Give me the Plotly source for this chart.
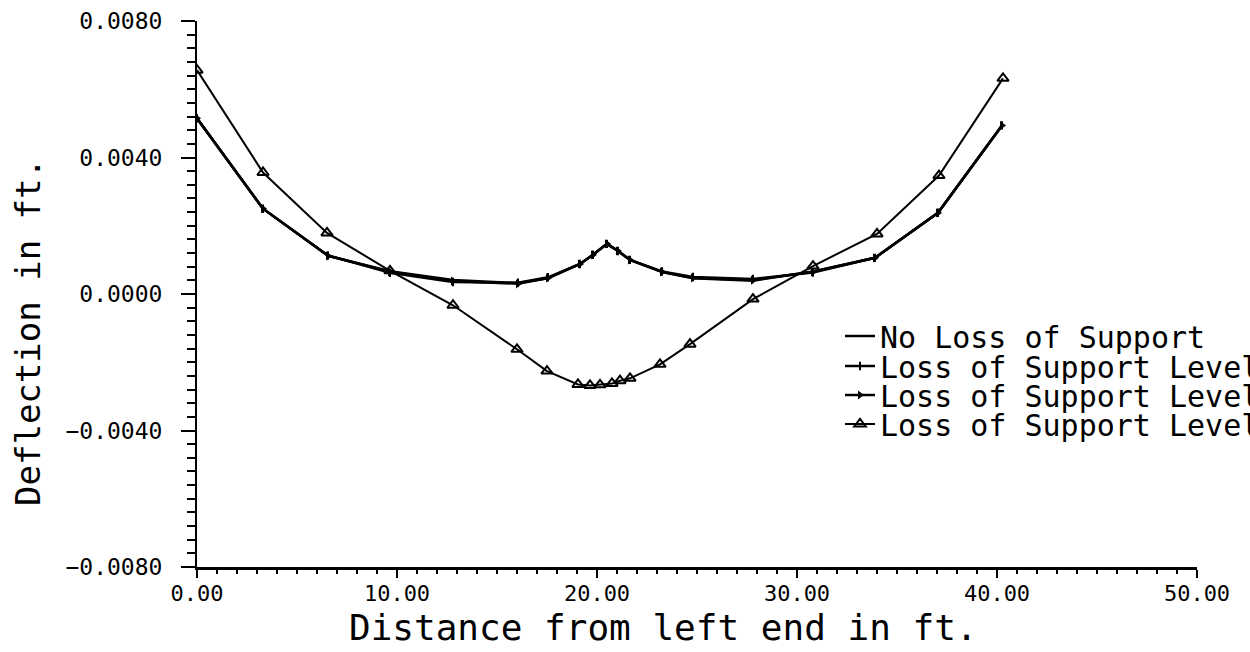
import plotly.graph_objects as go

# ---- data ----
x_l3 = [0.0, 3.3, 6.5, 9.65, 12.8, 16.0, 17.5, 19.05, 19.65, 20.15, 20.75, 21.15, 21.65,
        23.15, 24.65, 27.8, 30.8, 34.0, 37.1, 40.3]
y_l3 = [0.00656, 0.00356, 0.00179, 0.00068, -0.00033, -0.00162, -0.00226, -0.00265, -0.00268,
        -0.00266, -0.00262, -0.00254, -0.00247, -0.00206, -0.00147, -0.00015, 0.00082, 0.00176,
        0.00347, 0.00632]

x_l2 = [0.0, 3.3, 6.55, 9.65, 12.8, 16.05, 17.55, 19.15, 19.8, 20.5, 21.05, 21.65, 23.25,
        24.8, 27.8, 30.8, 33.9, 37.05, 40.25]
y_l2 = [0.00515, 0.0025, 0.00112, 0.00065, 0.00038, 0.0003, 0.00047, 0.00088, 0.00115,
        0.00147, 0.00126, 0.001, 0.00065, 0.00047, 0.00041, 0.00065, 0.00106, 0.00238, 0.00494]

x_l1 = [0.0, 3.3, 6.55, 9.65, 12.8, 16.05, 17.55, 19.15, 19.8, 20.5, 21.05, 21.65, 23.25,
        24.8, 27.8, 30.8, 33.9, 37.05, 40.25]
y_l1 = [0.00515, 0.0025, 0.00113, 0.00062, 0.00035, 0.00033, 0.00049, 0.00088, 0.00115,
        0.00147, 0.00126, 0.001, 0.00066, 0.00050, 0.00044, 0.00063, 0.00106, 0.00238, 0.00494]

x_nl = [0.0, 3.3, 6.55, 9.65, 12.8, 16.05, 17.55, 19.15, 19.8, 20.5, 21.05, 21.65, 23.25,
        24.8, 27.8, 30.8, 33.9, 37.05, 40.25]
y_nl = [0.00515, 0.0025, 0.00112, 0.00067, 0.00041, 0.00032, 0.00046, 0.00088, 0.00115,
        0.00147, 0.00126, 0.001, 0.00064, 0.00046, 0.00039, 0.00066, 0.00106, 0.00238, 0.00494]

series_names = ["No Loss of Support", "Loss of Support Level 1",
                "Loss of Support Level 2", "Loss of Support Level 3"]

x_ticks = [0, 10, 20, 30, 40, 50]
y_ticks = [-0.008, -0.004, 0.0, 0.004, 0.008]

MONO = "DejaVu Sans Mono"

fig = go.Figure()
fig.add_trace(go.Scatter(x=x_nl, y=y_nl, name=series_names[0], mode="lines",
                         line=dict(color="black", width=2.5), legend="legend",
                         showlegend=True))
fig.add_trace(go.Scatter(x=x_l1, y=y_l1, name=series_names[1], mode="lines+markers",
                         line=dict(color="black", width=2.5),
                         marker=dict(symbol="line-ns", size=6, line=dict(color="black", width=2)),
                         legend="legend2", showlegend=True))
fig.add_trace(go.Scatter(x=x_l2, y=y_l2, name=series_names[2], mode="lines+markers",
                         line=dict(color="black", width=2.5),
                         marker=dict(symbol="triangle-right", size=8, color="black"),
                         legend="legend3", showlegend=True))
fig.add_trace(go.Scatter(x=x_l3, y=y_l3, name=series_names[3], mode="lines+markers",
                         line=dict(color="black", width=2),
                         marker=dict(symbol="triangle-up-open", size=10,
                                     line=dict(color="black", width=2)),
                         legend="legend4", showlegend=True))

W0, W1 = 197, 1197
H0, H1 = 21, 567


def px_x(p):
    return (p - W0) / (W1 - W0)


def px_y(q):
    return (H1 - q) / (H1 - H0)


leg_common = dict(x=px_x(840), xanchor="left", yanchor="middle", bgcolor="rgba(0,0,0,0)",
                  borderwidth=0, font=dict(family=MONO, size=30, color="black"),
                  itemwidth=30)
row_y = [336, 366, 395, 424]

fig.update_layout(
    width=1250, height=652,
    showlegend=True,
    margin=dict(l=W0, r=1250 - W1, t=H0, b=652 - H1, autoexpand=False),
    paper_bgcolor="white", plot_bgcolor="white",
    font=dict(family=MONO, color="black"),
    legend=dict(y=px_y(row_y[0]), **leg_common),
    legend2=dict(y=px_y(row_y[1]), **leg_common),
    legend3=dict(y=px_y(row_y[2]), **leg_common),
    legend4=dict(y=px_y(row_y[3]), **leg_common),
    xaxis=dict(range=[0, 50], tickvals=x_ticks, tickformat=".2f",
               ticks="outside", ticklen=8, tickwidth=1.5, tickcolor="black",
               minor=dict(dtick=1, tick0=0, ticks="outside", ticklen=4, tickwidth=1.5,
                          tickcolor="black"),
               showline=True, linewidth=3, linecolor="black",
               showgrid=False, zeroline=False,
               tickfont=dict(family=MONO, size=22, color="black"),
               ticklabelstandoff=-3),
    yaxis=dict(range=[-0.008, 0.008], tickvals=y_ticks, tickformat=".4f",
               ticks="outside", ticklen=14, tickwidth=1.5, tickcolor="black",
               minor=dict(dtick=0.0004, tick0=0, ticks="outside", ticklen=8, tickwidth=1.5,
                          tickcolor="black"),
               showline=True, linewidth=2, linecolor="black",
               showgrid=False, zeroline=False,
               tickfont=dict(family=MONO, size=23, color="black"),
               ticklabelstandoff=14),
    annotations=[
        dict(text="Distance from left end in ft.", xref="paper", yref="paper",
             x=px_x(663), y=px_y(627), xanchor="center", yanchor="middle",
             showarrow=False, font=dict(family=MONO, size=36, color="black")),
        dict(text="Deflection in ft.", xref="paper", yref="paper",
             x=px_x(28), y=px_y(332), xanchor="center", yanchor="middle", textangle=-90,
             showarrow=False, font=dict(family=MONO, size=34, color="black")),
    ],
)

fig.write_html("out.html")
